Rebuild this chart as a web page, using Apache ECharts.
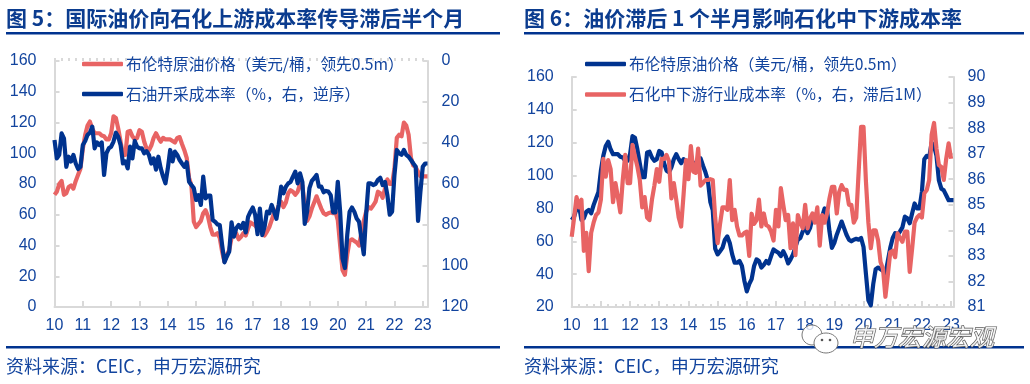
<!DOCTYPE html>
<html><head><meta charset="utf-8">
<style>html,body{margin:0;padding:0;background:#fff;width:1030px;height:384px;overflow:hidden}
#a,#b{position:absolute;top:0;width:515px;height:384px}#a{left:0}#b{left:515px}</style>
<script src="https://cdn.jsdelivr.net/npm/echarts@6/dist/echarts.min.js"></script>
</head><body><div id="a"></div><div id="b"></div>
<script>
// Monthly data from 2010-01
const brent = [73,75,80,82,73,74,78,79,77,82,86,90,
103,112,118,120.6,116,113,113,113,111.5,111,109,109,
113,124,123,116,107.5,99,99,114,114.5,111,109,110,
115,114,107.5,103,102,105,110,113,110,107.5,110,109,
109,109,108,107,110,110.5,106,102,97,84,79,55.5,
52,54,56,61,63,59,52,47,47,48,45,36,
29.5,34,37,45,49,48,44,45.6,48,46.5,51,55,
54,53,51,54,51,46.5,49,52,56.5,61,62,66,
68.5,65,68,74,76,75,73,75,80,79,66,56,
59,64,68,72,68,64,61,60,61,61.5,61,62,
56.5,40,24,21,34,43,44,43,42,40,48,56,
62,65,64,66,68.5,75,74,71,77,83,80,80,
90,110,112,111,120,118,112,97,92,91,88,85,85,85,85];
const miningCost = [38.5,47.5,45.8,35.3,37.7,51.6,46.7,49,45.8,50,52.7,51.6,
41,39,36,35,32,42.6,39.7,41,39.7,55.6,45,42.6,
41.8,39.3,35,37,41,50,49,52.4,41.8,47.5,39,41.8,
42.6,42.6,45,44,45.8,50,47.5,53,46.7,52.4,56.4,59.7,
52.4,43.4,49,44.2,45.8,48.3,50,51.6,49.4,58.9,60.5,62,
67.8,65.4,70.2,56.4,67,65.7,65.7,77.6,78.4,79.7,80,89.8,
98.2,95.4,93,78.7,85.7,81.6,80,81.6,79,83.6,76,73.5,
71.5,75,84.5,72,84.9,80.8,73.5,74.3,70.2,73.5,77,70,
61.3,64.5,61.3,59.7,59,56.4,54,59.7,54.8,59,79.5,73.5,
62,58.5,57.2,55.6,61.3,61.3,64,63.4,63.7,65.4,73.8,73.8,
58.9,73.5,96.3,101,84.9,73.5,71.5,73.5,76.8,78.4,86.5,94.3,
75,59.7,59.7,60.5,60,58,57,60.5,59,65.4,75,73.5,
55.6,43.4,45,45.8,43.4,45.8,46.7,48.3,50,51.6,78,63.7,51.6,50,50];
const downstreamCost = [83.75,84.5,85.3,84.9,85.2,83.2,83.9,82.4,83.9,84.3,84.6,84.7,
85.2,86.8,86.1,86.75,86.4,85.1,85.85,85.3,84.7,85.97,86.95,85.85,
85.85,87.34,86.9,86.5,85.97,84.9,85.3,84.5,84.4,85.2,85.75,86.4,
85.9,86.8,86.8,86.95,86.7,85.25,85.85,85.2,84.5,84.15,85.4,86.75,
86,87.3,86.3,86.25,87.2,85.75,85.85,85.97,85.97,86,85.97,84.5,
83.5,84.25,84.9,84.9,84.8,85.97,84.4,84.8,84.15,83.8,83.8,83.9,
83.95,83,84.65,84.25,84.4,85.2,84.15,84.66,84.2,84.15,83.95,83.6,
84.8,84.15,85.65,85,84.4,84.6,83.3,84.27,83.03,84.6,84.3,84.08,
85,84.08,84.47,84.66,84.3,84.9,83.4,84.6,84.3,84.66,85.25,85.7,
85.7,84.66,85.5,85.77,85.58,85.58,85,85,84.3,84.5,86.3,88.05,
88.05,85.9,84.3,83.3,84,84,83.6,82.76,82.5,81.4,82.25,83.15,
83.2,82.95,83.88,83.7,83.55,83.95,83.95,82.37,83.3,84.3,84.5,84.6,
84.5,85.45,85.58,85.97,87.73,88.2,87.2,86.55,86.48,85.97,86.8,87.4,86.8];
const months = brent.map((_, i) => String(10 + Math.floor(i / 12)).padStart(2, '0') + '-' + (i % 12 + 1));
const leftTitle = '图 5：国际油价向石化上游成本率传导滞后半个月';
const rightTitle = '图 6：油价滞后 1 个半月影响石化中下游成本率';
const source = '资料来源：CEIC，申万宏源研究';
const nameBrent = '布伦特原油价格（美元/桶，领先0.5m）';
const nameMining = '石油开采成本率（%，右，逆序）';
const nameDown = '石化中下游行业成本率（%，右，滞后1M）';

const RED = '#E86464', BLUE = '#00338F', TEXT = '#12449E', AX = '#D9D9D9';
const FONT = '"Liberation Sans","Noto Sans CJK SC",sans-serif';

function xAxes(cats) {
  return [
    { type: 'category', data: cats, boundaryGap: false, gridIndex: 0,
      axisLine: { show: true, lineStyle: { color: AX, width: 2 } },
      axisTick: { show: true, inside: true, interval: 11, length: 6, lineStyle: { color: AX, width: 2 } },
      axisLabel: { interval: (i) => i % 12 === 0, margin: 11, color: TEXT, fontSize: 16, fontFamily: FONT, hideOverlap: false,
        formatter: v => v.slice(0, 2) } },
    { type: 'category', data: cats, boundaryGap: false, gridIndex: 0, position: 'bottom',
      axisLine: { show: false }, axisLabel: { show: false },
      axisTick: { show: true, inside: true, interval: 2, length: 3, lineStyle: { color: AX, width: 2 } } }
  ];
}
function yAxis(min, max, step, pos, margin, inverse) {
  return { type: 'value', min, max, interval: step, position: pos, inverse: !!inverse,
    splitLine: { show: false },
    axisLine: { show: true, lineStyle: { color: AX, width: 2 } },
    axisTick: { show: true, inside: true, length: 5, lineStyle: { color: AX, width: 2 } },
    axisLabel: { margin, color: TEXT, fontSize: 16, fontFamily: FONT } };
}
function line(name, data, color, yi, z) {
  return { type: 'line', name, data, yAxisIndex: yi, xAxisIndex: 0, showSymbol: false, z,
    lineStyle: { color, width: 4.2, join: 'round' }, itemStyle: { color }, smooth: false, animation: false };
}
function frame(title, lx, rw) {
  return {
    animation: false,
    title: { text: title, left: lx, top: 8, padding: 0,
      textStyle: { color: '#0B3C8F', fontSize: 21, fontWeight: 'bold', fontFamily: '"Noto Sans CJK SC"' } },
    graphic: [
      { type: 'rect', shape: { x: lx, y: 32, width: rw, height: 2.5 }, style: { fill: '#00338F' } },
      { type: 'rect', shape: { x: lx, y: 346, width: rw, height: 2.5 }, style: { fill: '#00338F' } },
      { type: 'text', x: lx, y: 357, style: { text: source, fill: TEXT, fontSize: 18, fontFamily: '"Noto Sans CJK SC"' } }
    ]
  };
}
const legendText = { color: TEXT, fontSize: 15.7, lineHeight: 16, fontFamily: '"Noto Sans CJK SC"', padding: [0, 0, 0, -2] };

const a = echarts.init(document.getElementById('a'));
a.setOption(Object.assign(frame(leftTitle, 6, 494), {
  grid: { left: 54.5, right: 515 - 427.5, top: 61, bottom: 384 - 307, containLabel: false },
  legend: { orient: 'vertical', left: 82, top: 56, icon: 'roundRect', itemWidth: 41, itemHeight: 4.5, itemGap: 14, padding: 0,
    textStyle: legendText, data: [nameBrent, nameMining] },
  xAxis: xAxes(months),
  yAxis: [yAxis(0, 160, 20, 'left', 18), yAxis(0, 120, 20, 'right', 14, true)],
  series: [line(nameBrent, brent, RED, 0, 2), line(nameMining, miningCost, BLUE, 1, 3)]
}));

const b = echarts.init(document.getElementById('b'));
const rf = frame(rightTitle, 9, 500);
rf.graphic.push(
  { type: 'ellipse', shape: { cx: 297, cy: 335, rx: 10, ry: 10 }, style: { fill: 'rgba(255,255,255,.8)', stroke: '#777', lineWidth: 1 }, z: 50 },
  { type: 'ellipse', shape: { cx: 311, cy: 343, rx: 12, ry: 10 }, style: { fill: '#fff', stroke: '#777', lineWidth: 1 }, z: 51 },
  { type: 'circle', shape: { cx: 307, cy: 340, r: 1.3 }, style: { fill: '#555' }, z: 52 },
  { type: 'circle', shape: { cx: 315, cy: 340, r: 1.3 }, style: { fill: '#555' }, z: 52 },
  { type: 'text', x: 335, y: 325, z: 53, style: { text: '申万宏源宏观', fill: 'rgba(255,255,255,.85)', stroke: '#555', lineWidth: 1.2,
    fontSize: 24, fontStyle: 'italic', fontFamily: '"Noto Sans CJK SC"' } }
);
b.setOption(Object.assign(rf, {
  grid: { left: 56.7, right: 515 - 438.5, top: 77, bottom: 384 - 307 },
  legend: { orient: 'vertical', left: 70, top: 56, icon: 'roundRect', itemWidth: 41, itemHeight: 4.5, itemGap: 14.5, padding: 0,
    textStyle: legendText, data: [nameBrent, nameDown] },
  xAxis: xAxes(months.slice(0, 158)),
  yAxis: [yAxis(20, 160, 20, 'left', 18), yAxis(81, 90, 1, 'right', 14)],
  series: [line(nameBrent, brent.slice(0, 158), BLUE, 0, 2), line(nameDown, downstreamCost, RED, 1, 3)]
}));
</script></body></html>
